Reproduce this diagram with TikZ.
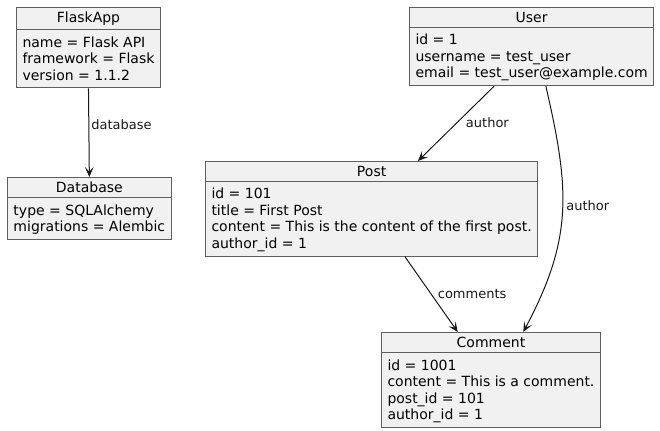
\documentclass[tikz,border=0pt]{standalone}
\usepackage{fontspec}
\setmainfont{DejaVu Sans}
\usetikzlibrary{shapes.multipart,arrows.meta,calc}
\definecolor{objfill}{HTML}{F1F1F1}
\definecolor{objline}{HTML}{5E5E5E}
\definecolor{arrline}{HTML}{181818}
% struts for header and attribute lines
\newcommand{\hd}[1]{\rule[-0.9pt]{0pt}{8.4pt}#1}
\newcommand{\ftop}{\rule{0pt}{9.8pt}}
\newcommand{\fbot}{\rule[-2.6pt]{0pt}{2.6pt}}
\tikzset{
  obj/.style={rectangle split, rectangle split parts=2, draw=objline, fill=objfill,
    line width=0.75pt, align=left, rectangle split part align={center,left},
    inner xsep=4.5pt, inner ysep=2.85pt, anchor=north west,
    font=\fontsize{10.5}{12.4}\selectfont},
  arr/.style={-{Stealth[length=7.5pt,width=6.5pt,inset=3.5pt]}, draw=arrline, line width=0.75pt},
  lbl/.style={font=\fontsize{9.75}{11}\selectfont, text=arrline, inner sep=1.5pt, anchor=west}
}
\begin{document}
\begin{tikzpicture}[x=0.75pt, y=-0.75pt]
        \useasboundingbox (0, 0) rectangle (660, 431);

        % objects
        \node[obj] (flask) at (16, 7) {\hd{FlaskApp}
          \nodepart{second}\ftop name = Flask API\\framework = Flask\\version = 1.1.2\fbot};
        \node[obj] (db) at (7, 177) {\hd{Database}
          \nodepart{second}\ftop type = SQLAlchemy\\migrations = Alembic\fbot};
        \node[obj] (user) at (409, 7) {\hd{User}
          \nodepart{second}\ftop id = 1\\username = test\_user\\email = test\_user@example.com\fbot};
        \node[obj] (post) at (205, 161) {\hd{Post}
          \nodepart{second}\ftop id = 101\\title = First Post\\content = This is the content of the first post.\\author\_id = 1\fbot};
        \node[obj] (comment) at (381, 332) {\hd{Comment}
          \nodepart{second}\ftop id = 1001\\content = This is a comment.\\post\_id = 101\\author\_id = 1\fbot};

        % arrows
        \draw[arr] (flask.south) -- (db.north) node[lbl, pos=0.41] {database};
        \draw[arr] ($(user.south west)!0.347!(user.south east)$) -- ($(post.north west)!0.639!(post.north east)$)
          node[lbl, pos=0.49, xshift=5pt] {author};
        \draw[arr] ($(user.south west)!0.558!(user.south east)$) to[out=-77, in=62, looseness=1.1]
          node[lbl, pos=0.47, xshift=1pt] {author} ($(comment.north west)!0.647!(comment.north east)$);
        \draw[arr] ($(post.south west)!0.6!(post.south east)$) -- ($(comment.north west)!0.349!(comment.north east)$)
          node[lbl, pos=0.5, xshift=3pt] {comments};
\end{tikzpicture}
\end{document}
